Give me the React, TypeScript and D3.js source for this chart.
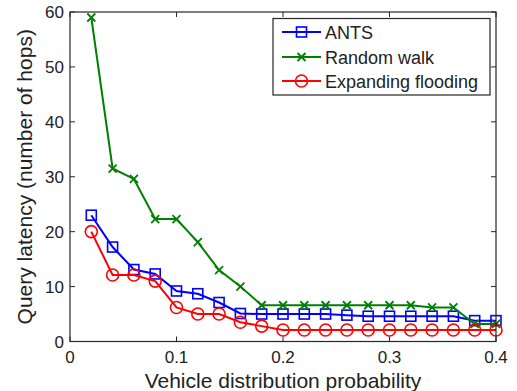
import React from "react";
import * as d3 from "d3";

const xValues = [0.02, 0.04, 0.06, 0.08, 0.1, 0.12, 0.14, 0.16, 0.18, 0.2, 0.22, 0.24, 0.26, 0.28, 0.3, 0.32, 0.34, 0.36, 0.38, 0.4];
const antsValues = [23.0, 17.2, 13.1, 12.3, 9.2, 8.7, 7.1, 5.1, 5.0, 5.0, 5.0, 5.0, 4.8, 4.6, 4.6, 4.6, 4.6, 4.6, 3.8, 3.8];
const randomWalkValues = [59.0, 31.5, 29.6, 22.3, 22.3, 18.1, 13.0, 10.0, 6.6, 6.6, 6.6, 6.6, 6.6, 6.6, 6.6, 6.6, 6.2, 6.2, 3.2, 3.2];
const floodingValues = [20.0, 12.1, 12.1, 11.0, 6.2, 5.0, 5.0, 3.5, 2.8, 2.1, 2.1, 2.1, 2.1, 2.1, 2.1, 2.1, 2.1, 2.1, 2.1, 2.1];
const seriesNames = ["ANTS", "Random walk", "Expanding flooding"];
const xTicks = [0, 0.1, 0.2, 0.3, 0.4];
const yTicks = [0, 10, 20, 30, 40, 50, 60];
const xLabel = "Vehicle distribution probability";
const yLabel = "Query latency (number of hops)";

const W = 517, H = 391;
const L = 70, R = 496, T = 12, B = 341.5;
const FONT = "'Liberation Sans', Arial, sans-serif";
const colors = ["#0000ff", "#008000", "#ff0000"];

function Marker({ type, x, y, color }: { type: number; x: number; y: number; color: string }) {
  if (type === 0) return <rect x={x - 5} y={y - 5} width={10} height={10} fill="none" stroke={color} strokeWidth={1.6} />;
  if (type === 1)
    return (
      <path d={`M${x - 4},${y - 4}L${x + 4},${y + 4}M${x - 4},${y + 4}L${x + 4},${y - 4}`} stroke={color} strokeWidth={1.8} fill="none" />
    );
  return <circle cx={x} cy={y} r={6} fill="none" stroke={color} strokeWidth={1.6} />;
}

export default function App() {
  const x = d3.scaleLinear().domain([0, 0.4]).range([L, R]);
  const y = d3.scaleLinear().domain([0, 60]).range([B, T]);
  const series = [antsValues, randomWalkValues, floodingValues];
  const line = d3
    .line<number>()
    .x((_, i) => x(xValues[i]))
    .y((d) => y(d));
  const tickLen = 5;
  const axisColor = "#262626";
  const legX = 273, legY = 18.5, legW = 217, legH = 76.5;
  const rowY = [32, 57, 81];
  return (
    <svg width={W} height={H} style={{ position: "absolute", left: 0, top: 0, background: "#fff" }}>
      <rect x={0} y={0} width={W} height={H} fill="#fff" />
      {/* ticks */}
      {xTicks.map((t) => (
        <g key={"xt" + t}>
          <line x1={x(t)} x2={x(t)} y1={B} y2={B - tickLen} stroke={axisColor} />
          <line x1={x(t)} x2={x(t)} y1={T} y2={T + tickLen} stroke={axisColor} />
          <text x={x(t)} y={B + 21} textAnchor="middle" fontFamily={FONT} fontSize={17} fill="#222">
            {t === 0 ? "0" : String(t)}
          </text>
        </g>
      ))}
      {yTicks.map((t) => (
        <g key={"yt" + t}>
          <line x1={L} x2={L + tickLen} y1={y(t)} y2={y(t)} stroke={axisColor} />
          <line x1={R} x2={R - tickLen} y1={y(t)} y2={y(t)} stroke={axisColor} />
          <text x={L - 6} y={y(t) + 6} textAnchor="end" fontFamily={FONT} fontSize={17} fill="#222">
            {t}
          </text>
        </g>
      ))}
      {/* series */}
      {series.map((vals, si) => (
        <g key={"s" + si}>
          <path d={line(vals) || ""} fill="none" stroke={colors[si]} strokeWidth={2} />
          {vals.map((v, i) => (
            <Marker key={i} type={si} x={x(xValues[i])} y={y(v)} color={colors[si]} />
          ))}
        </g>
      ))}
      <rect x={L} y={T} width={R - L} height={B - T} fill="none" stroke={axisColor} strokeWidth={1.2} />
      {/* legend */}
      <rect x={legX} y={legY} width={legW} height={legH} fill="#fff" stroke={axisColor} strokeWidth={1.2} />
      {seriesNames.map((name, i) => (
        <g key={"l" + i}>
          <line x1={282} x2={321} y1={rowY[i]} y2={rowY[i]} stroke={colors[i]} strokeWidth={2} />
          <Marker type={i} x={301.5} y={rowY[i]} color={colors[i]} />
          <text x={325} y={rowY[i] + 6.5} fontFamily={FONT} fontSize={18} fill="#222">
            {name}
          </text>
        </g>
      ))}
      {/* axis labels */}
      <text x={(L + R) / 2} y={388} textAnchor="middle" fontFamily={FONT} fontSize={21} fill="#222">
        {xLabel}
      </text>
      <text
        transform={`translate(32,${(T + B) / 2}) rotate(-90)`}
        textAnchor="middle"
        fontFamily={FONT}
        fontSize={21}
        fill="#222"
      >
        {yLabel}
      </text>
    </svg>
  );
}
